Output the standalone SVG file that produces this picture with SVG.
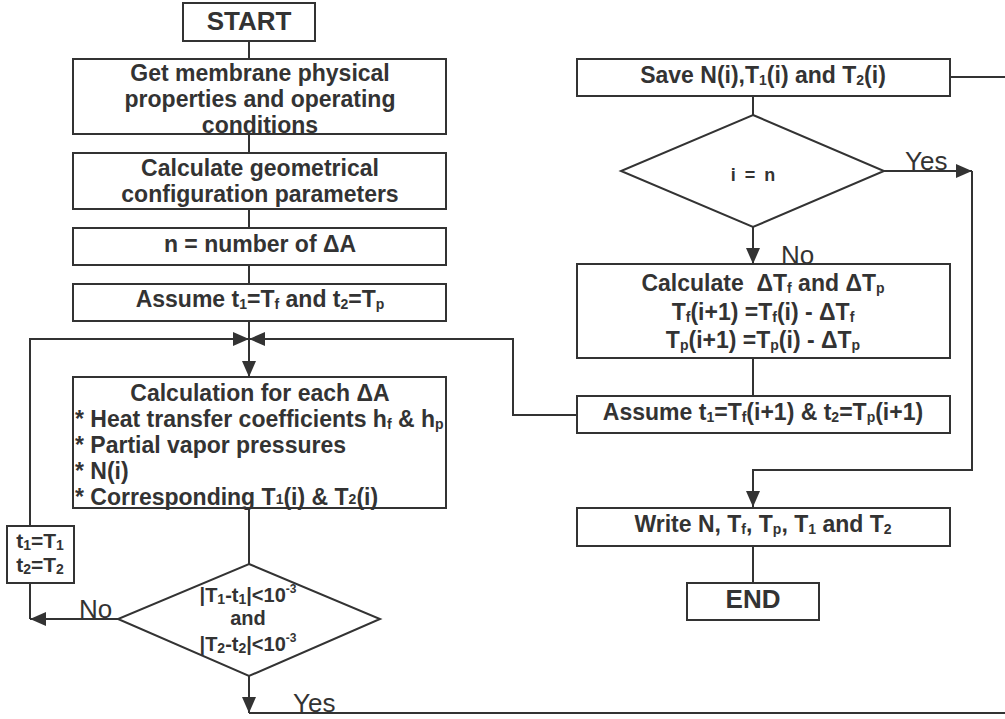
<svg xmlns="http://www.w3.org/2000/svg" width="1005" height="719" viewBox="0 0 1005 719">
<style>
.box{fill:#fff;stroke:#333;stroke-width:2}
.ln{fill:none;stroke:#333;stroke-width:2}
.t{font-family:"Liberation Sans",Arial,Helvetica,sans-serif;font-weight:bold;font-size:23px;fill:#333;text-anchor:middle}
.big{font-size:26px}
.l{text-anchor:start}
.s{font-size:14px}
.sup{font-size:12px}
.lab{font-family:"Liberation Sans",Arial,Helvetica,sans-serif;font-size:26px;fill:#333}
</style>
<defs>
<marker id="ah" markerUnits="userSpaceOnUse" markerWidth="16" markerHeight="14" viewBox="0 0 16 14" refX="16" refY="7" orient="auto">
<path d="M0,0 L16,7 L0,14 z" fill="#333"/>
</marker>
</defs>

<g id="connectors">
<path class="ln" d="M249,41 V59"/>
<path class="ln" d="M249,134 V153"/>
<path class="ln" d="M249,209 V228"/>
<path class="ln" d="M249,265 V284"/>
<path class="ln" d="M249,321 V377" marker-end="url(#ah)"/>
<path class="ln" d="M30,526 V339 H249" marker-end="url(#ah)"/>
<path class="ln" d="M577,415 H513 V339 H249" marker-end="url(#ah)"/>
<path class="ln" d="M249,508 V564"/>
<path class="ln" d="M118,619 H30" marker-end="url(#ah)"/>
<path class="ln" d="M30,619 V583"/>
<path class="ln" d="M249,676 V713" marker-end="url(#ah)"/>
<path class="ln" d="M249,713 H1005"/>
<path class="ln" d="M950,77 H1005"/>
<path class="ln" d="M753,96 V115"/>
<path class="ln" d="M884,171 H972" marker-end="url(#ah)"/>
<path class="ln" d="M972,171 V470 H753 V507" marker-end="url(#ah)"/>
<path class="ln" d="M753,227 V264" marker-end="url(#ah)"/>
<path class="ln" d="M753,358 V396"/>
<path class="ln" d="M753,546 V583"/>
<text class="lab" x="79" y="618">No</text>
<text class="lab" x="293" y="712">Yes</text>
<text class="lab" x="905" y="170">Yes</text>
<text class="lab" x="781" y="264">No</text>
</g>

<g id="start">
<rect class="box" x="183" y="3" width="132" height="38"/>
<text class="t big" x="249" y="30">START</text>
</g>

<g id="get-properties">
<rect class="box" x="73" y="59" width="373" height="75"/>
<text class="t" x="260" y="81">Get membrane physical</text>
<text class="t" x="260" y="107">properties and operating</text>
<text class="t" x="260" y="133">conditions</text>
</g>

<g id="calc-geometry">
<rect class="box" x="73" y="153" width="373" height="56"/>
<text class="t" x="260" y="176">Calculate geometrical</text>
<text class="t" x="260" y="202">configuration parameters</text>
</g>

<g id="n-number">
<rect class="box" x="73" y="228" width="373" height="37"/>
<text class="t" x="260" y="252">n = number of ΔA</text>
</g>

<g id="assume-initial">
<rect class="box" x="73" y="284" width="373" height="37"/>
<text class="t" x="260" y="307">Assume t<tspan class="s" dy="2">1</tspan><tspan dy="-2">=T</tspan><tspan class="s" dy="2">f</tspan><tspan dy="-2"> and t</tspan><tspan class="s" dy="2">2</tspan><tspan dy="-2">=T</tspan><tspan class="s" dy="2">p</tspan></text>
</g>

<g id="calc-each">
<rect class="box" x="73" y="377" width="373" height="131"/>
<text class="t" x="260" y="401">Calculation for each ΔA</text>
<text class="t l" x="75" y="427">* Heat transfer coefficients h<tspan class="s" dy="2">f</tspan><tspan dy="-2"> &amp; h</tspan><tspan class="s" dy="2">p</tspan></text>
<text class="t l" x="75" y="453">* Partial vapor pressures</text>
<text class="t l" x="75" y="479">* N(i)</text>
<text class="t l" x="75" y="505">* Corresponding T<tspan class="s" dy="-1">1</tspan><tspan dy="1">(i) &amp; T</tspan><tspan class="s" dy="-1">2</tspan><tspan dy="1">(i)</tspan></text>
</g>

<g id="update-t">
<rect class="box" x="7" y="526" width="67" height="57"/>
<text class="t" x="40" y="548" style="font-size:21px">t<tspan class="s" dy="2">1</tspan><tspan dy="-2">=T</tspan><tspan class="s" dy="2">1</tspan></text>
<text class="t" x="40" y="572" style="font-size:21px">t<tspan class="s" dy="2">2</tspan><tspan dy="-2">=T</tspan><tspan class="s" dy="2">2</tspan></text>
</g>

<g id="convergence">
<polygon class="box" points="249,564 380,619 249,676 118,619"/>
<text class="t" x="248" y="602" style="font-size:20px">|T<tspan class="s" dy="2">1</tspan><tspan dy="-2">-t</tspan><tspan class="s" dy="2">1</tspan><tspan dy="-2">|&lt;10</tspan><tspan class="sup" dy="-9">-3</tspan></text>
<text class="t" x="248" y="625" style="font-size:20px">and</text>
<text class="t" x="248" y="651" style="font-size:20px">|T<tspan class="s" dy="2">2</tspan><tspan dy="-2">-t</tspan><tspan class="s" dy="2">2</tspan><tspan dy="-2">|&lt;10</tspan><tspan class="sup" dy="-9">-3</tspan></text>
</g>

<g id="save">
<rect class="box" x="577" y="59" width="373" height="37"/>
<text class="t" x="763" y="83">Save N(i),T<tspan class="s" dy="2">1</tspan><tspan dy="-2">(i) and T</tspan><tspan class="s" dy="2">2</tspan><tspan dy="-2">(i)</tspan></text>
</g>

<g id="i-equals-n">
<polygon class="box" points="753,115 884,171 753,227 621,171"/>
<text class="t" x="753" y="181" style="font-size:18px;word-spacing:4px">i = n</text>
</g>

<g id="calc-delta">
<rect class="box" x="577" y="264" width="373" height="94"/>
<text class="t" x="763" y="291" xml:space="preserve">Calculate  ΔT<tspan class="s" dy="2">f</tspan><tspan dy="-2"> and ΔT</tspan><tspan class="s" dy="2">p</tspan></text>
<text class="t" x="763" y="320">T<tspan class="s" dy="2">f</tspan><tspan dy="-2">(i+1) =T</tspan><tspan class="s" dy="2">f</tspan><tspan dy="-2">(i) - ΔT</tspan><tspan class="s" dy="2">f</tspan></text>
<text class="t" x="763" y="348">T<tspan class="s" dy="2">p</tspan><tspan dy="-2">(i+1) =T</tspan><tspan class="s" dy="2">p</tspan><tspan dy="-2">(i) - ΔT</tspan><tspan class="s" dy="2">p</tspan></text>
</g>

<g id="assume-next">
<rect class="box" x="577" y="396" width="373" height="37"/>
<text class="t" x="763" y="420">Assume t<tspan class="s" dy="2">1</tspan><tspan dy="-2">=T</tspan><tspan class="s" dy="2">f</tspan><tspan dy="-2">(i+1) &amp; t</tspan><tspan class="s" dy="2">2</tspan><tspan dy="-2">=T</tspan><tspan class="s" dy="2">p</tspan><tspan dy="-2">(i+1)</tspan></text>
</g>

<g id="write">
<rect class="box" x="577" y="508" width="373" height="38"/>
<text class="t" x="763" y="532">Write N, T<tspan class="s" dy="2">f</tspan><tspan dy="-2">, T</tspan><tspan class="s" dy="2">p</tspan><tspan dy="-2">, T</tspan><tspan class="s" dy="2">1</tspan><tspan dy="-2"> and T</tspan><tspan class="s" dy="2">2</tspan></text>
</g>

<g id="end">
<rect class="box" x="687" y="583" width="132" height="37"/>
<text class="t big" x="753" y="608">END</text>
</g>
</svg>
